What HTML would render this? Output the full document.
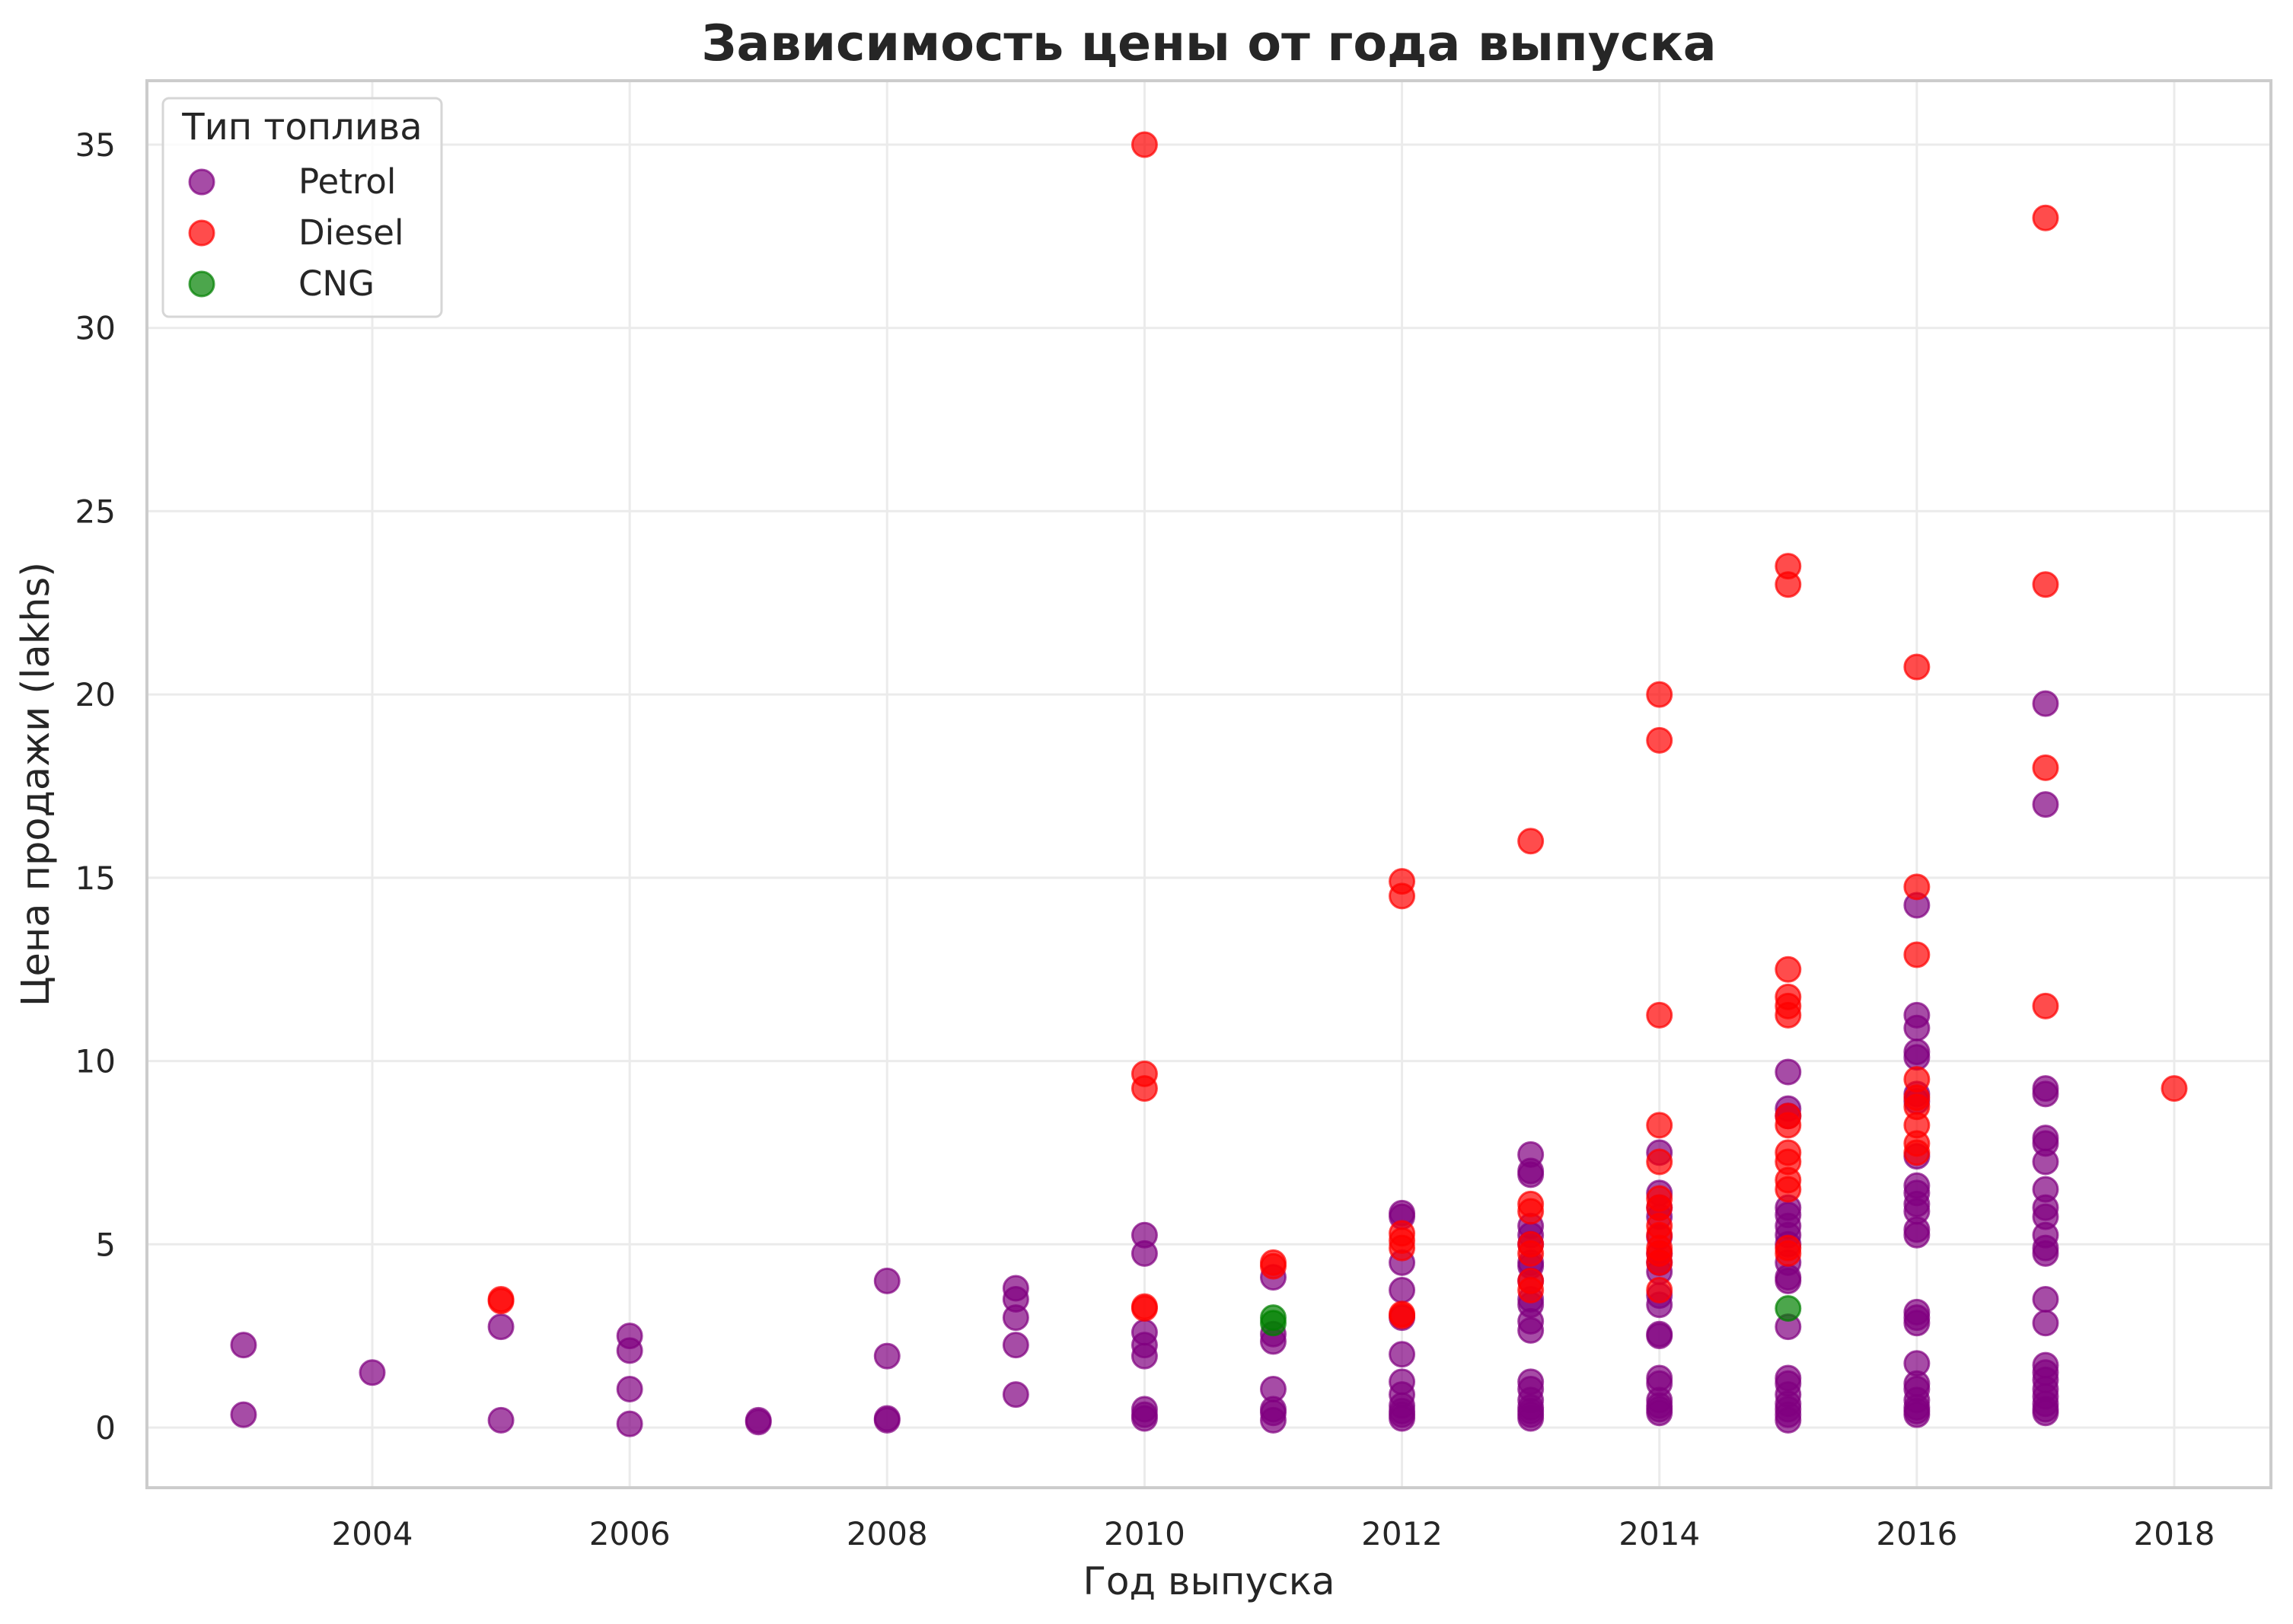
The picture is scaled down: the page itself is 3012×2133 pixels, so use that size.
<!DOCTYPE html>
<html><head><meta charset="utf-8"><style>
html,body{margin:0;padding:0;background:#fff}
svg{display:block}
text{font-family:"DejaVu Sans","Liberation Sans",sans-serif;fill:#262626}
</style></head><body>
<svg id="chart" xmlns="http://www.w3.org/2000/svg" width="3012" height="2133" viewBox="0 0 3012 2133">
<rect width="3012" height="2133" fill="#fff"/>
<g id="grid"></g>
<g id="points"></g>
<rect x="193" y="106" width="2790" height="1848" fill="none" stroke="#cccccc" stroke-width="4"/>
<g id="ticks"></g>
<text x="1588" y="79" text-anchor="middle" font-size="65" font-weight="bold">Зависимость цены от года выпуска</text>
<text x="1588" y="2094" text-anchor="middle" font-size="50">Год выпуска</text>
<text transform="translate(64,1030) rotate(-90)" text-anchor="middle" font-size="51">Цена продажи (lakhs)</text>
<g>
<rect x="214" y="129" width="366" height="287" rx="8" fill="#fff" fill-opacity="0.8" stroke="#d6d6d6" stroke-width="3"/>
<text x="397" y="183" text-anchor="middle" font-size="48">Тип топлива</text>
<g><circle cx="265" cy="239" r="16" fill="#800080" fill-opacity="0.7" stroke="#800080" stroke-opacity="0.7" stroke-width="3"/><text x="392" y="254" font-size="45">Petrol</text></g>
<g><circle cx="265" cy="306" r="16" fill="#ff0000" fill-opacity="0.7" stroke="#ff0000" stroke-opacity="0.7" stroke-width="3"/><text x="392" y="321" font-size="45">Diesel</text></g>
<g><circle cx="265" cy="373" r="16" fill="#008000" fill-opacity="0.7" stroke="#008000" stroke-opacity="0.7" stroke-width="3"/><text x="392" y="388" font-size="45">CNG</text></g>
</g>
</svg>
<script>
const xTicks=[2004,2006,2008,2010,2012,2014,2016,2018];
const yTicks=[0,5,10,15,20,25,30,35];
const petrolYears=[2003,2003,2004,2005,2005,2006,2006,2006,2006,2007,2007,2008,2008,2008,2008,2009,2009,2009,2009,2009,
2010,2010,2010,2010,2010,2010,2010,2010,2011,2011,2011,2011,2011,2011,2011,
2012,2012,2012,2012,2012,2012,2012,2012,2012,2012,2012,2012,
2013,2013,2013,2013,2013,2013,2013,2013,2013,2013,2013,2013,2013,2013,2013,2013,2013,2013,2013,2013,
2014,2014,2014,2014,2014,2014,2014,2014,2014,2014,2014,2014,2014,2014,2014,2014,2014,2014,
2015,2015,2015,2015,2015,2015,2015,2015,2015,2015,2015,2015,2015,2015,2015,2015,2015,2015,2015,
2016,2016,2016,2016,2016,2016,2016,2016,2016,2016,2016,2016,2016,2016,2016,2016,2016,2016,2016,2016,2016,2016,2016,2016,
2017,2017,2017,2017,2017,2017,2017,2017,2017,2017,2017,2017,2017,2017,2017,2017,2017,2017,2017,2017,2017,2017,2017];
const petrolPrices=[2.25,0.35,1.5,2.75,0.2,2.5,2.1,1.05,0.1,0.2,0.15,4.0,1.95,0.25,0.2,3.8,3.5,3.0,2.25,0.9,
5.25,4.75,2.6,2.25,1.95,0.5,0.35,0.25,4.1,2.55,2.35,1.05,0.5,0.4,0.2,
5.85,5.75,4.5,3.75,3.0,2.0,1.25,0.9,0.6,0.45,0.35,0.25,
7.45,7.0,6.9,5.5,5.25,5.0,4.5,4.4,4.0,3.5,3.35,2.9,2.65,1.25,1.05,0.75,0.55,0.45,0.35,0.25,
7.5,6.4,6.0,5.75,5.2,4.75,4.5,4.25,3.6,3.35,2.55,2.5,1.35,1.2,0.75,0.6,0.5,0.4,
9.7,8.7,8.5,6.0,5.8,5.5,5.25,5.0,4.5,4.1,4.0,2.75,1.35,1.2,0.9,0.65,0.5,0.35,0.2,
14.25,11.25,10.9,10.25,10.1,9.1,8.9,7.4,6.6,6.4,6.1,5.9,5.4,5.25,3.15,3.0,2.85,1.75,1.2,1.05,0.75,0.55,0.45,0.35,
19.75,17.0,9.25,9.1,7.9,7.75,7.25,6.5,6.0,5.75,5.25,4.9,4.75,3.5,2.85,1.7,1.5,1.3,1.05,0.85,0.65,0.5,0.4];
const dieselYears=[2005,2005,2010,2010,2010,2010,2010,2011,2011,2012,2012,2012,2012,2012,2012,2012,
2013,2013,2013,2013,2013,2013,2013,2014,2014,2014,2014,2014,2014,2014,2014,2014,2014,2014,2014,2014,
2015,2015,2015,2015,2015,2015,2015,2015,2015,2015,2015,2015,2015,2015,
2016,2016,2016,2016,2016,2016,2016,2016,2016,2017,2017,2017,2017,2018];
const dieselPrices=[3.5,3.45,35,9.65,9.25,3.3,3.25,4.5,4.4,14.9,14.5,5.3,5.1,4.9,3.1,3.05,
16.0,6.1,5.9,5.0,4.75,4.0,3.75,20.0,18.75,11.25,8.25,7.25,6.25,6.0,5.5,5.25,4.9,4.75,4.5,3.75,
23.5,23.0,12.5,11.75,11.5,11.25,8.5,8.25,7.5,7.25,6.75,6.5,4.9,4.75,
20.75,14.75,12.9,9.5,9.0,8.75,8.25,7.75,7.5,33.0,23.0,18.0,11.5,9.25];
const cngYears=[2011,2011,2015];
const cngPrices=[3.0,2.85,3.25];

const NS='http://www.w3.org/2000/svg';
const X0=193,X1=2983,Y0=1954,Y1=106;
function xScale(v){return 489+(v-2004)*(2856-489)/14;}
function yScale(v){return 1875-v*(1875-190)/35;}
function mk(tag,attrs,parent){const e=document.createElementNS(NS,tag);for(const k in attrs)e.setAttribute(k,attrs[k]);parent.appendChild(e);return e;}
const grid=document.getElementById('grid'),ticks=document.getElementById('ticks'),pts=document.getElementById('points');
xTicks.forEach(t=>{const x=xScale(t);
 const l=mk('line',{x1:x,x2:x,y1:Y1,y2:Y0,stroke:'#ebebeb','stroke-width':3},grid);
 
 
 const tx=mk('text',{x:x,y:2029,'text-anchor':'middle','font-size':42},ticks);tx.textContent=t;
 
 
});
yTicks.forEach(t=>{const y=yScale(t);
 const l=mk('line',{x1:X0,x2:X1,y1:y,y2:y,stroke:'#ebebeb','stroke-width':3},grid);
 
 
 const tx=mk('text',{x:152,y:y+15,'text-anchor':'end','font-size':42},ticks);tx.textContent=t;
 
 
});
function series(years,prices,color,name){
 years.forEach((yr,i)=>{const c=mk('circle',{cx:xScale(yr),cy:yScale(prices[i]),r:16,fill:color,'fill-opacity':0.7,stroke:color,'stroke-opacity':0.7,'stroke-width':3},pts);
  
  
 });
}
series(petrolYears,petrolPrices,'#800080','petrol-point');
series(dieselYears,dieselPrices,'#ff0000','diesel-point');
series(cngYears,cngPrices,'#008000','cng-point');
</script>
</body></html>
